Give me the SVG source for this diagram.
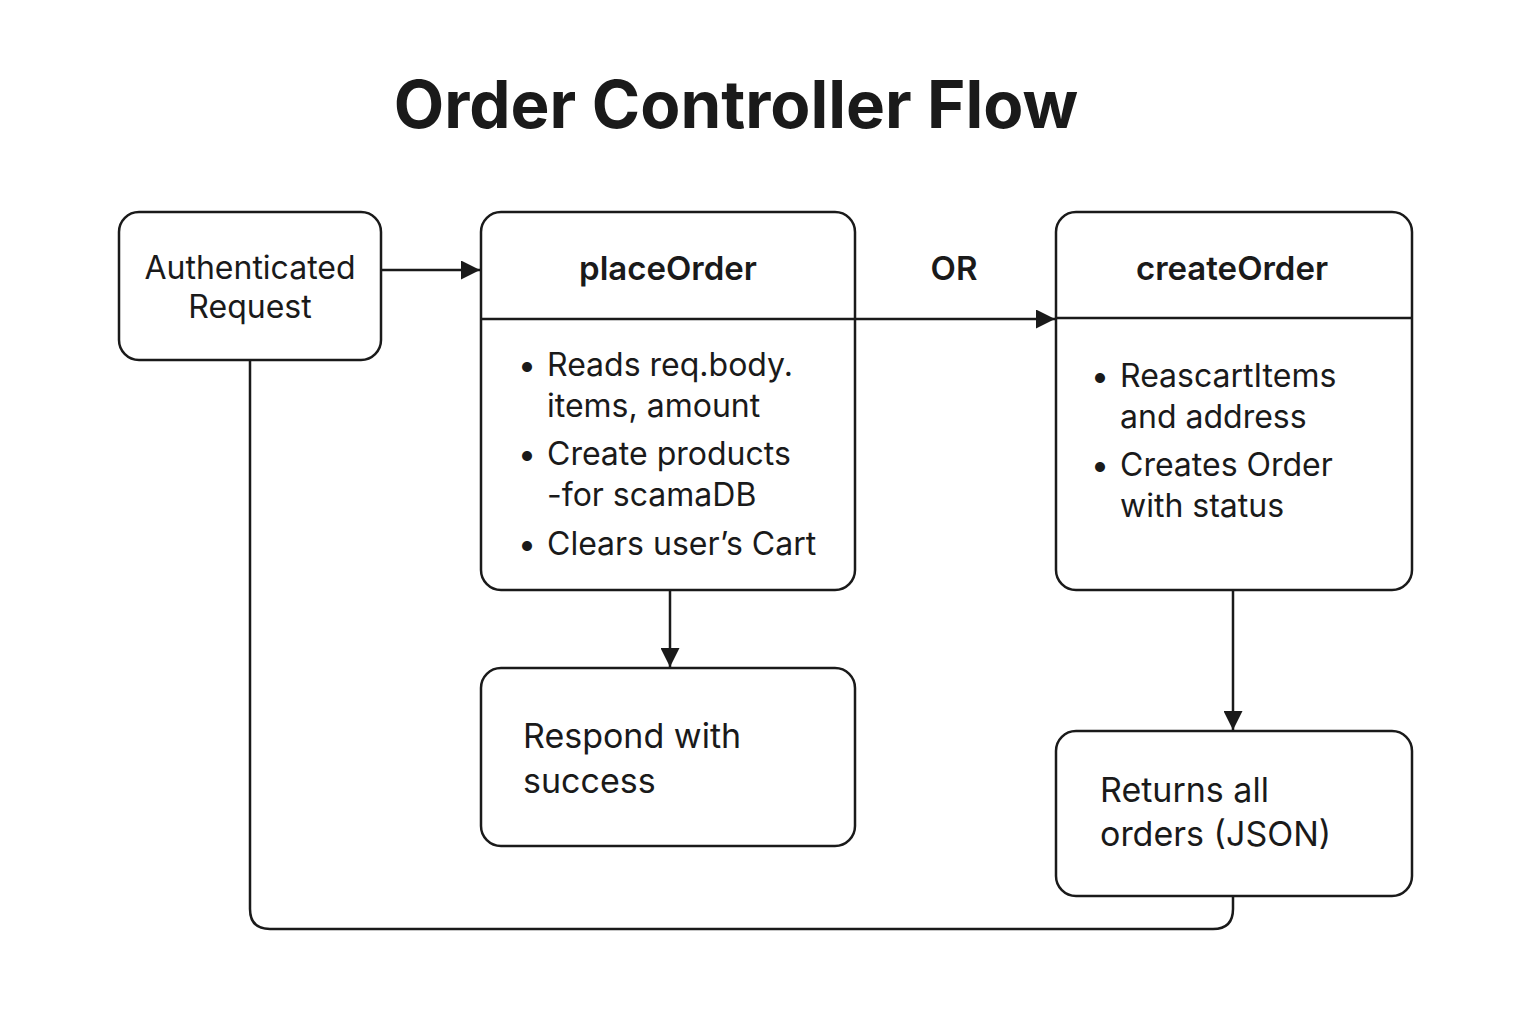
<svg xmlns="http://www.w3.org/2000/svg" width="1536" height="1024" viewBox="0 0 1536 1024">
<defs>
<marker id="arr" viewBox="0 0 10 10" refX="10" refY="5" markerWidth="20" markerHeight="19" markerUnits="userSpaceOnUse" orient="auto">
<path d="M0,0 L10,5 L0,10 z" fill="#1a1a1a"/>
</marker>
<style>
.box{fill:#fff;stroke:#1a1a1a;stroke-width:2.5}
.ln{fill:none;stroke:#1a1a1a;stroke-width:2.5}
.t{font-family:Inter,"Noto Sans",sans-serif;fill:#1a1a1a;font-size:32px}
.h{font-family:Inter,"Noto Sans",sans-serif;fill:#1a1a1a;font-size:33px;font-weight:600;text-anchor:middle}
</style>
</defs>
<rect width="1536" height="1024" fill="#fff"/>
<text x="736" y="128" font-family="Inter,'Noto Sans',sans-serif" font-size="65.5" font-weight="700" fill="#1a1a1a" text-anchor="middle">Order Controller Flow</text>
<g id="connectors">
<line class="ln" x1="382" y1="270" x2="480" y2="270" style="marker-end:url(#arr)"/>
<line class="ln" x1="855" y1="319" x2="1055" y2="319" style="marker-end:url(#arr)"/>
<line class="ln" x1="670" y1="590" x2="670" y2="667" style="marker-end:url(#arr)"/>
<line class="ln" x1="1233" y1="590" x2="1233" y2="730" style="marker-end:url(#arr)"/>
<path class="ln" d="M250,360 V909 Q250,929 270,929 H1213 Q1233,929 1233,909 V896"/>
<text x="954" y="280" class="h">OR</text>
</g>
<g id="auth">
<rect class="box" x="119" y="212" width="262" height="148" rx="20"/>
<text class="t" x="250" y="279" text-anchor="middle">Authenticated</text>
<text class="t" x="250" y="318" text-anchor="middle">Request</text>
</g>
<g id="placeOrder">
<rect class="box" x="481" y="212" width="374" height="378" rx="20"/>
<line class="ln" x1="481" y1="319" x2="855" y2="319"/>
<text class="h" x="668" y="280">placeOrder</text>
<text class="t" x="518" y="376">•</text><text class="t" x="547" y="376">Reads  req.body.</text>
<text class="t" x="547" y="417">items, amount</text>
<text class="t" x="518" y="465">•</text><text class="t" x="547" y="465">Create products</text>
<text class="t" x="547" y="506">-for scamaDB</text>
<text class="t" x="518" y="555">•</text><text class="t" x="547" y="555">Clears user’s Cart</text>
</g>
<g id="createOrder">
<rect class="box" x="1056" y="212" width="356" height="378" rx="20"/>
<line class="ln" x1="1056" y1="318" x2="1412" y2="318"/>
<text class="h" x="1232" y="280">createOrder</text>
<text class="t" x="1091" y="387">•</text><text class="t" x="1120" y="387">ReascartItems</text>
<text class="t" x="1120" y="428">and address</text>
<text class="t" x="1091" y="476">•</text><text class="t" x="1120" y="476">Creates Order</text>
<text class="t" x="1120" y="517">with status</text>
</g>
<g id="respond">
<rect class="box" x="481" y="668" width="374" height="178" rx="20"/>
<text class="t" x="523" y="748" style="font-size:34px">Respond with</text>
<text class="t" x="523" y="793" style="font-size:34px">success</text>
</g>
<g id="returns">
<rect class="box" x="1056" y="731" width="356" height="165" rx="20"/>
<text class="t" x="1100" y="802" style="font-size:34px">Returns all</text>
<text class="t" x="1100" y="846" style="font-size:34px">orders (JSON)</text>
</g>
</svg>
